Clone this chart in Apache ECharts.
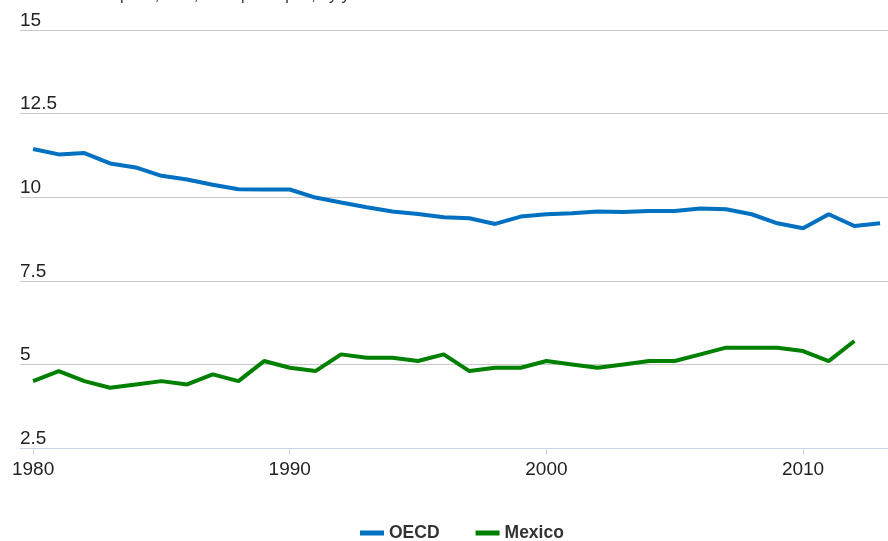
<!DOCTYPE html>
<html>
<head>
<meta charset="utf-8">
<script src="https://cdn.jsdelivr.net/npm/echarts@6/dist/echarts.min.js"></script>
<style>
  html, body { margin: 0; padding: 0; background: #fff; }
  #chart { width: 888px; height: 541px; }
</style>
</head>
<body>
<div id="chart"></div>
<script>
// years on the x axis
var years = [1980, 1981, 1982, 1983, 1984, 1985, 1986, 1987, 1988, 1989,
  1990, 1991, 1992, 1993, 1994, 1995, 1996, 1997, 1998, 1999,
  2000, 2001, 2002, 2003, 2004, 2005, 2006, 2007, 2008, 2009,
  2010, 2011, 2012, 2013];

// litres per capita
var oecd = [11.44, 11.28, 11.32, 11.01, 10.89, 10.64, 10.53, 10.37, 10.24, 10.23,
  10.23, 9.99, 9.84, 9.70, 9.57, 9.50, 9.40, 9.37, 9.20, 9.42,
  9.49, 9.52, 9.57, 9.56, 9.59, 9.59, 9.66, 9.64, 9.49, 9.22,
  9.07, 9.49, 9.14, 9.22];

var mexico = [4.5, 4.8, 4.5, 4.3, 4.4, 4.5, 4.4, 4.7, 4.5, 5.1,
  4.9, 4.8, 5.3, 5.2, 5.2, 5.1, 5.3, 4.8, 4.9, 4.9,
  5.1, 5.0, 4.9, 5.0, 5.1, 5.1, 5.3, 5.5, 5.5, 5.5,
  5.4, 5.1, 5.7];

var xTicks = [1980, 1990, 2000, 2010];

function pairs(vals) {
  return vals.map(function (v, i) { return [years[i], v]; });
}

var chart = echarts.init(document.getElementById('chart'), null, { renderer: 'canvas' });

chart.setOption({
  animation: false,
  backgroundColor: '#ffffff',
  textStyle: { fontFamily: 'Liberation Sans, Arial, sans-serif' },
  // title sits mostly above the picture, only descenders show
  title: {
    text: 'Alcohol consumption, total, litres per capita, by year',
    left: 2,
    top: -17,
    textStyle: { fontSize: 16, fontWeight: 'normal', color: '#333333' }
  },
  legend: {
    left: 355,
    top: 519,
    icon: 'rect',
    itemWidth: 24,
    itemHeight: 5,
    itemGap: 36,
    textStyle: { fontSize: 17.5, fontWeight: 'bold', color: '#333333' },
    data: ['OECD', 'Mexico']
  },
  grid: { left: 20, right: 0, top: 30, bottom: 93 },
  xAxis: {
    type: 'value',
    min: 1979.49,
    max: 2013.31,
    splitLine: { show: false },
    axisLine: { lineStyle: { color: '#ccd6eb', width: 1 } },
    axisTick: { show: true, length: 7, customValues: xTicks, lineStyle: { color: '#ccd6eb' } },
    axisLabel: {
      customValues: xTicks,
      fontSize: 19,
      color: '#222222',
      margin: 12,
      formatter: function (v) { return String(v); }
    }
  },
  yAxis: {
    type: 'value',
    min: 2.5,
    max: 15,
    interval: 2.5,
    axisLine: { show: false },
    axisTick: { show: false },
    splitLine: { lineStyle: { color: '#c8c8c8', width: 1 } },
    axisLabel: {
      inside: true,
      margin: 0,
      verticalAlign: 'bottom',
      fontSize: 19,
      color: '#222222'
    }
  },
  series: [
    {
      name: 'OECD',
      type: 'line',
      data: pairs(oecd),
      showSymbol: false,
      lineStyle: { color: '#0070c0', width: 4 },
      itemStyle: { color: '#0070c0' }
    },
    {
      name: 'Mexico',
      type: 'line',
      data: pairs(mexico),
      showSymbol: false,
      lineStyle: { color: '#008000', width: 4 },
      itemStyle: { color: '#008000' }
    }
  ]
});
</script>
</body>
</html>
